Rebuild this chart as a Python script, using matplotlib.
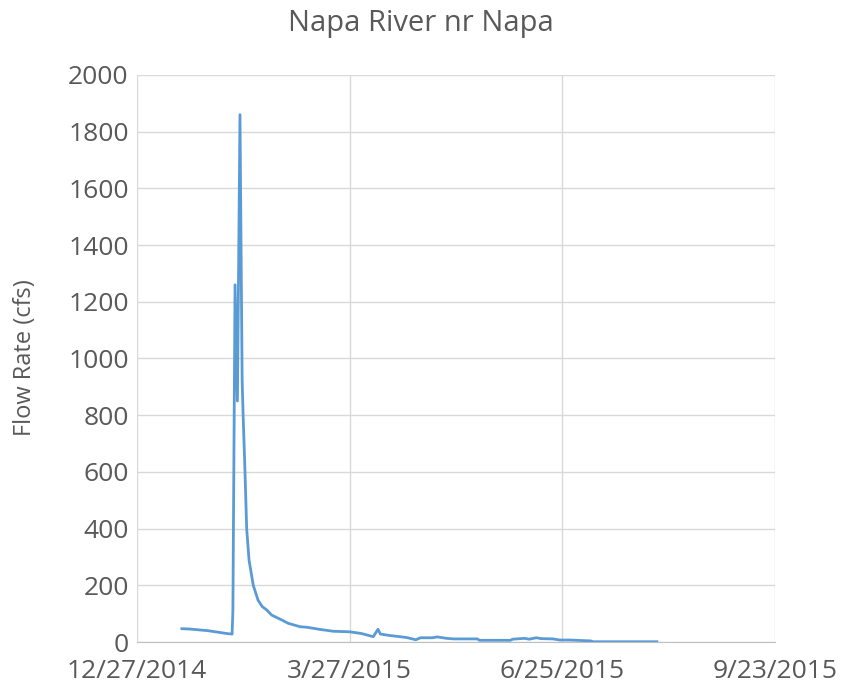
import matplotlib
matplotlib.use("Agg")
import matplotlib.pyplot as plt
import pandas as pd

# flow (cfs); storm peak given with hour to follow its shape
dates = [
    "2015-01-15", "2015-01-18", "2015-01-22", "2015-01-26", "2015-01-30",
    "2015-02-03", "2015-02-05 06:00", "2015-02-05 14:00", "2015-02-06 12:00",
    "2015-02-07 12:00", "2015-02-08 14:00", "2015-02-09 12:00", "2015-02-09 22:00",
    "2015-02-10 17:00", "2015-02-11 10:00", "2015-02-12 10:00", "2015-02-14 05:00",
    "2015-02-16 05:00", "2015-02-18", "2015-02-19 22:00", "2015-02-22",
    "2015-02-26 05:00", "2015-03-01", "2015-03-06", "2015-03-09", "2015-03-14",
    "2015-03-20", "2015-03-27", "2015-04-01", "2015-04-05", "2015-04-06",
    "2015-04-08", "2015-04-09", "2015-04-13", "2015-04-20", "2015-04-24",
    "2015-04-26", "2015-05-01", "2015-05-03", "2015-05-07", "2015-05-10",
    "2015-05-20", "2015-05-21", "2015-06-03", "2015-06-04", "2015-06-09",
    "2015-06-11", "2015-06-14", "2015-06-16", "2015-06-21", "2015-06-24",
    "2015-06-28", "2015-07-07", "2015-07-08", "2015-08-04",
]
flow = [
    47, 46, 43, 40, 35,
    30, 28, 110, 1260,
    850, 1860, 924, 800,
    600, 400, 289, 200,
    148, 125, 113, 95,
    78, 66, 54, 52, 45,
    38, 36, 30, 21, 19,
    45, 28, 23, 16, 8,
    15, 15, 18, 13, 11,
    11, 6, 6, 10, 13,
    10, 15, 12, 11, 7,
    7, 4, 1, 1,
]
tick_dates = ["2014-12-27", "2015-03-27", "2015-06-25", "2015-09-23"]
tick_labels = ["12/27/2014", "3/27/2015", "6/25/2015", "9/23/2015"]

plt.rcParams["font.family"] = ["Open Sans", "DejaVu Sans"]
grey = "#595959"

fig = plt.figure(figsize=(8.42, 6.98), dpi=100)
ax = fig.add_axes([0.1627, 0.0802, 0.7577, 0.8124])

ax.plot(pd.to_datetime(dates, format="mixed"), flow, color="#5B9BD5", lw=2.0)

ticks = pd.to_datetime(tick_dates)
ax.set_xlim(ticks[0], ticks[-1])
ax.set_xticks(ticks)
ax.set_xticklabels(tick_labels)
ax.set_ylim(0, 2000)
ax.set_yticks(range(0, 2001, 200))

ax.grid(True, color="#D9D9D9", lw=1)
ax.set_axisbelow(True)
for s in ["top", "right", "left"]:
    ax.spines[s].set_visible(False)
ax.spines["bottom"].set_color("#BFBFBF")
ax.tick_params(length=0, labelsize=19, labelcolor=grey)
ax.tick_params(axis="y", pad=6)
ax.tick_params(axis="x", pad=12)

fig.text(25 / 842, 0.487, "Flow Rate (cfs)", rotation=90, ha="center", va="center",
         fontsize=17, color=grey)
fig.text(0.5, 0.966, "Napa River nr Napa", ha="center", va="center",
         fontsize=21, color=grey)

fig.savefig("out.png", dpi=100)
